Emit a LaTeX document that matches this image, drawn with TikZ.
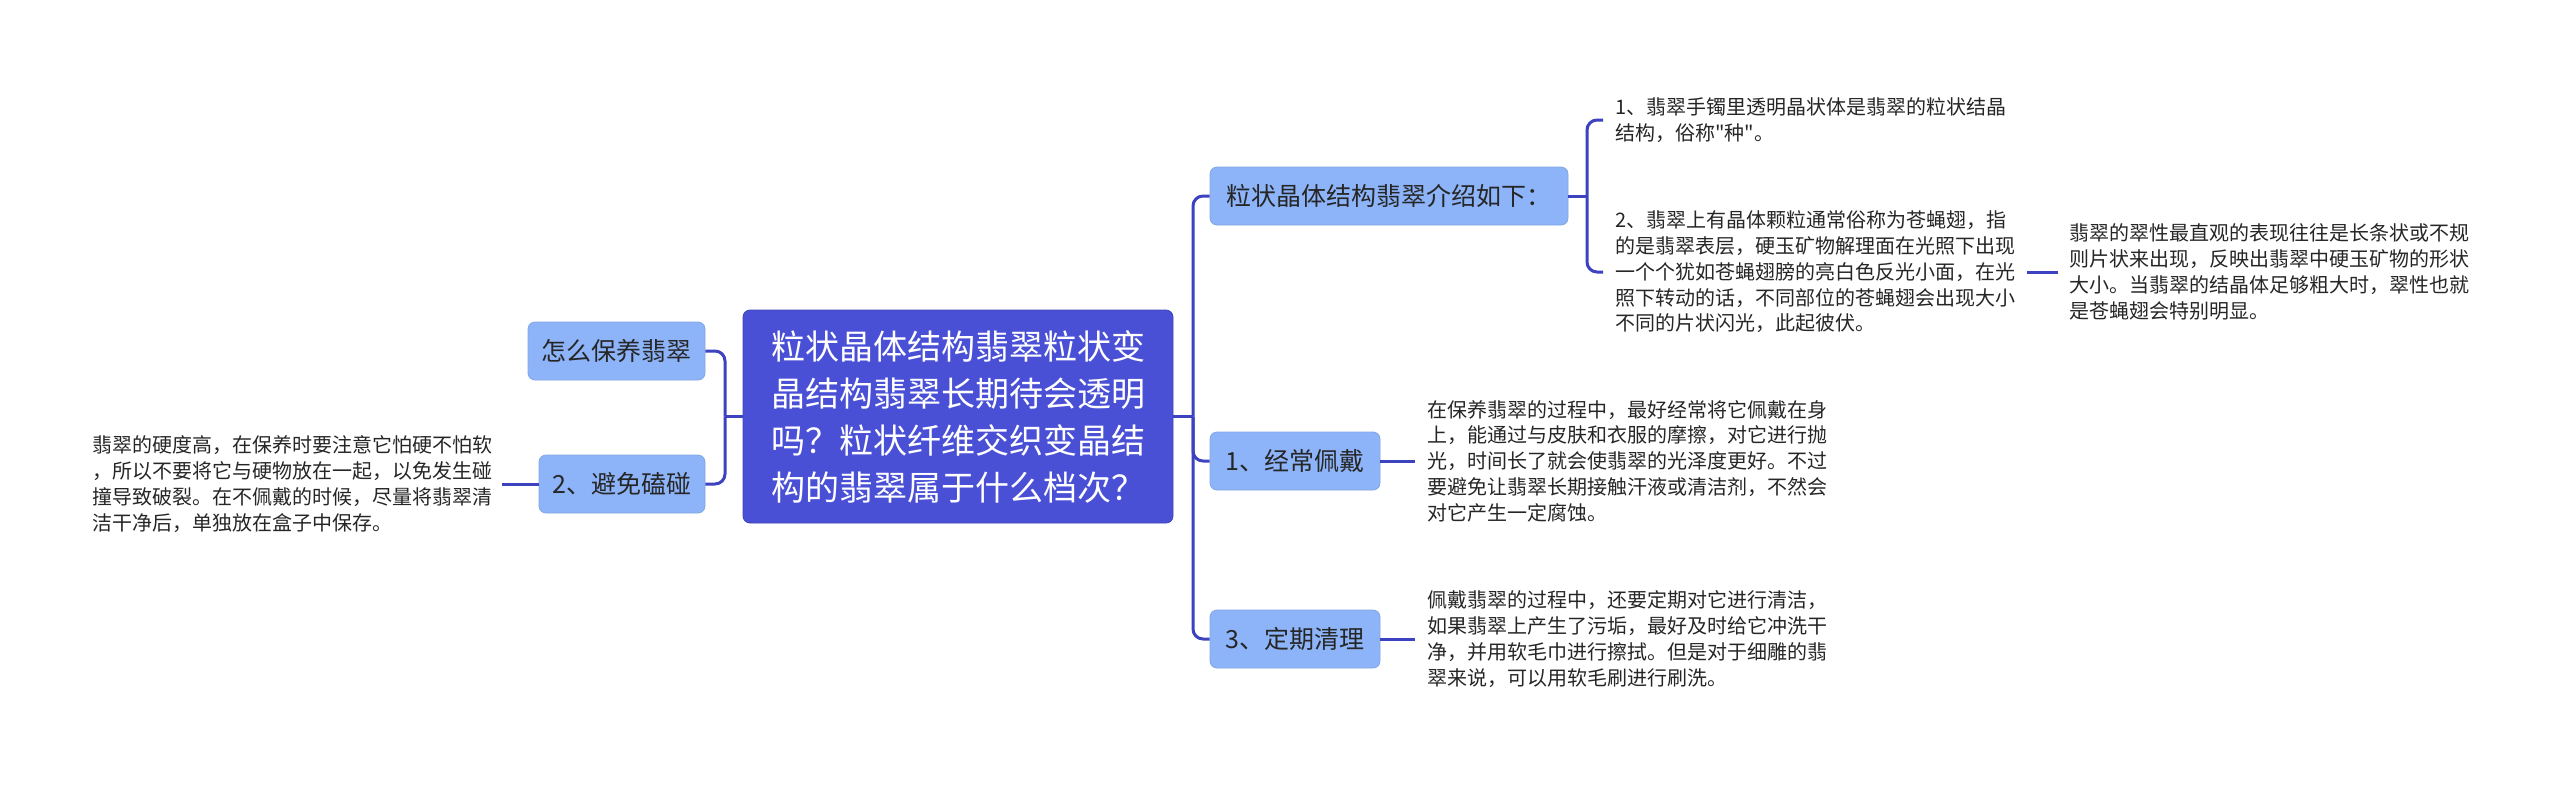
\documentclass[tikz,border=0pt]{standalone}
\usepackage{fontspec}
\setmainfont{Noto Sans CJK SC}
\newfontfamily\cjk{Noto Sans CJK SC}
\definecolor{centerfill}{HTML}{4A50D6}
\definecolor{subfill}{HTML}{8DB4F8}
\definecolor{linecol}{HTML}{3D43C0}
\definecolor{txt}{HTML}{262626}
\tikzset{
  mainbox/.style={fill=centerfill, draw=centerfill!85!black, line width=0.8pt, rounded corners=7pt,
    text=white, font=\cjk\fontsize{34}{47}\selectfont, align=left,
    minimum width=430pt, minimum height=213pt, inner sep=0pt},
  subbox/.style={fill=subfill, draw=subfill!92!black, line width=0.8pt, rounded corners=7pt,
    text=txt, font=\cjk\fontsize{25}{30}\selectfont, minimum height=58pt, inner xsep=12pt},
  leaftext/.style={text=txt, font=\cjk\fontsize{20}{25.8}\selectfont, align=left, inner xsep=12pt, inner ysep=0pt},
  conn/.style={draw=linecol, line width=3pt},
  connr/.style={conn, rounded corners=10pt},
}
\begin{document}
\begin{tikzpicture}[x=1pt,y=-1pt]
\fill[white] (0,0) rectangle (2560,785);
\useasboundingbox (0,0) rectangle (2560,785);

\node[mainbox] (c) at (958,416.5) {粒状晶体结构翡翠粒状变\\晶结构翡翠长期待会透明\\吗？粒状纤维交织变晶结\\构的翡翠属于什么档次？};

\node[subbox, minimum width=358pt] (n1) at (1389,196) {粒状晶体结构翡翠介绍如下：};
\node[subbox, minimum width=170pt] (n2) at (1295,461) {1、经常佩戴};
\node[subbox, minimum width=170pt] (n3) at (1295,639) {3、定期清理};
\node[subbox, minimum width=177pt] (n4) at (616.5,351) {怎么保养翡翠};
\node[subbox, minimum width=166pt] (n5) at (622,484) {2、避免磕碰};

\node[leaftext, anchor=west] (t1) at (1603,120) {1、翡翠手镯里透明晶状体是翡翠的粒状结晶\\结构，俗称"种"。};
\node[leaftext, anchor=west] (t2) at (1603,272) {2、翡翠上有晶体颗粒通常俗称为苍蝇翅，指\\的是翡翠表层，硬玉矿物解理面在光照下出现\\一个个犹如苍蝇翅膀的亮白色反光小面，在光\\照下转动的话，不同部位的苍蝇翅会出现大小\\不同的片状闪光，此起彼伏。};
\node[leaftext, anchor=west, inner xsep=11pt] (t3) at (2058,272) {翡翠的翠性最直观的表现往往是长条状或不规\\则片状来出现，反映出翡翠中硬玉矿物的形状\\大小。当翡翠的结晶体足够粗大时，翠性也就\\是苍蝇翅会特别明显。};
\node[leaftext, anchor=west] (t4) at (1415,461) {在保养翡翠的过程中，最好经常将它佩戴在身\\上，能通过与皮肤和衣服的摩擦，对它进行抛\\光，时间长了就会使翡翠的光泽度更好。不过\\要避免让翡翠长期接触汗液或清洁剂，不然会\\对它产生一定腐蚀。};
\node[leaftext, anchor=west] (t5) at (1415,639) {佩戴翡翠的过程中，还要定期对它进行清洁，\\如果翡翠上产生了污垢，最好及时给它冲洗干\\净，并用软毛巾进行擦拭。但是对于细雕的翡\\翠来说，可以用软毛刷进行刷洗。};
\node[leaftext, anchor=east, inner xsep=9pt] (t6) at (502,484) {翡翠的硬度高，在保养时要注意它怕硬不怕软\\，所以不要将它与硬物放在一起，以免发生碰\\撞导致破裂。在不佩戴的时候，尽量将翡翠清\\洁干净后，单独放在盒子中保存。};

\coordinate (rb) at (1193,416.5);
\draw[conn] (c.east) -- (rb);
\foreach \t in {n1,n2,n3} \draw[connr] (rb) |- (\t.west);
\coordinate (lb) at (725,416.5);
\draw[conn] (c.west) -- (lb);
\foreach \t in {n4,n5} \draw[connr] (lb) |- (\t.east);
\coordinate (ub) at (1587,196);
\draw[conn] (n1.east) -- (ub);
\foreach \t in {t1,t2} \draw[connr] (ub) |- (\t.west);
\draw[conn] (t2.east) -- (t3.west);
\draw[conn] (n2.east) -- (t4.west);
\draw[conn] (n3.east) -- (t5.west);
\draw[conn] (n5.west) -- (t6.east);
\end{tikzpicture}
\end{document}
